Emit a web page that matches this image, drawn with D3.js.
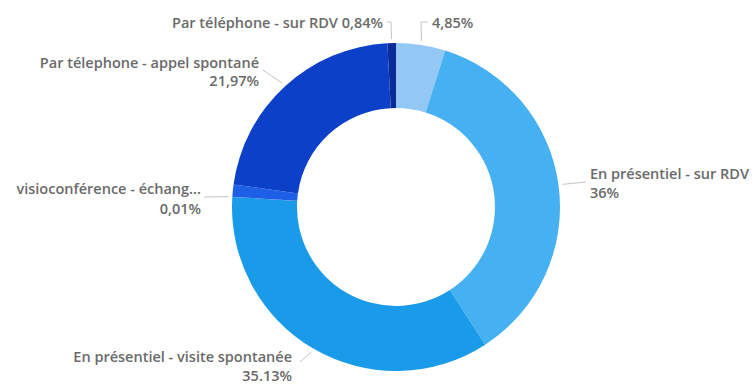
<!DOCTYPE html>
<html>
<head>
<meta charset="utf-8">
<script src="https://cdn.jsdelivr.net/npm/d3@7"></script>
<style>
  html, body { margin: 0; padding: 0; background: #fff; }
  svg { display: block; }
  .lbl { font-family: "Open Sans", "Noto Sans", sans-serif; font-weight: 600; font-size: 14.5px; fill: #6a6a6a; }
</style>
</head>
<body>
<svg id="chart" width="753" height="386"></svg>
<script>
// Contact channels, clockwise from 12 o'clock
const categories = [
  "Par courriel",
  "En présentiel - sur RDV",
  "En présentiel - visite spontanée",
  "visioconférence - échange",
  "visioconférence - sur RDV",
  "Par télephone - appel spontané",
  "Par téléphone - sur RDV"
];
const values = [4.85, 36, 35.13, 0.01, 1.2, 21.97, 0.84];
const colors = ["#93c8f4", "#45b0f2", "#1a9bea", "#3a74ee", "#1e5fe8", "#0c40c8", "#0a2b99"];

// Label text lines per slice (null = label hidden)
const labelLines = [
  ["4,85%"],
  ["En présentiel - sur RDV", "36%"],
  ["En présentiel - visite spontanée", "35.13%"],
  ["visioconférence - échang...", "0,01%"],
  null,
  ["Par télephone - appel spontané", "21,97%"],
  ["Par téléphone - sur RDV 0,84%"]
];

// Label placement: text anchor, position, line spacing, and leader elbow
const labelLayout = [
  { anchor: "start", x: 432, y: 22, dy: 0,  elbow: [421, 22], end: [428, 22] },
  { anchor: "start", x: 590, y: 173, dy: 19, elbow: null, end: [586, 182] },
  { anchor: "end",   x: 292, y: 356, dy: 19, elbow: null, end: [300, 362] },
  { anchor: "end",   x: 201, y: 188, dy: 20, elbow: null, end: [204, 197] },
  null,
  { anchor: "end",   x: 259, y: 62, dy: 18, elbow: null, end: [263, 70] },
  { anchor: "end",   x: 383, y: 22, dy: 0,  elbow: [391, 22], end: [387, 22] }
];

const cx = 396, cy = 207, outerR = 164, innerR = 99;

const svg = d3.select("#chart");
const g = svg.append("g").attr("transform", `translate(${cx},${cy})`);

const data = categories.map((c, i) => ({ name: c, value: values[i], i }));

const pie = d3.pie().value(d => d.value).sort(null);
const arcs = pie(data);

const arc = d3.arc().innerRadius(innerR).outerRadius(outerR);

g.selectAll("path.slice")
  .data(arcs)
  .join("path")
  .attr("class", "slice")
  .attr("d", arc)
  .attr("fill", d => colors[d.data.i]);

// Leader lines and labels
const leadArc = d3.arc().innerRadius(outerR + 4).outerRadius(outerR + 4);

arcs.forEach(a => {
  const i = a.data.i;
  const lay = labelLayout[i];
  if (!lay || !labelLines[i]) return;
  const [sx, sy] = leadArc.centroid(a);
  const pts = [[sx + cx, sy + cy]];
  if (lay.elbow) pts.push(lay.elbow);
  pts.push(lay.end);
  svg.append("path")
    .attr("d", d3.line()(pts))
    .attr("fill", "none")
    .attr("stroke", "#c4c4c4")
    .attr("stroke-width", 1);

  const t = svg.append("text")
    .attr("class", "lbl")
    .attr("text-anchor", lay.anchor)
    .attr("dominant-baseline", "central");
  labelLines[i].forEach((line, k) => {
    t.append("tspan")
      .attr("x", lay.x)
      .attr("y", lay.y + k * lay.dy)
      .text(line);
  });
});
</script>
</body>
</html>
